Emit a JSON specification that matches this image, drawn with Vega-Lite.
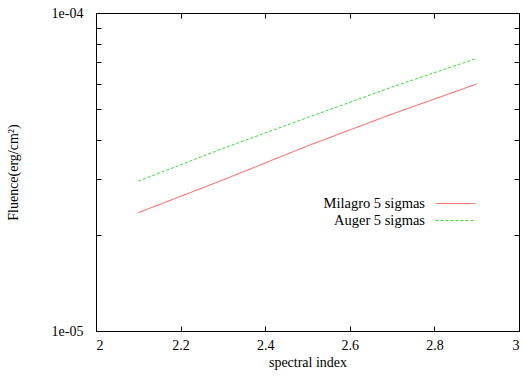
{
  "$schema": "https://vega.github.io/schema/vega-lite/v6.json",
  "width": 423,
  "height": 318,
  "autosize": {"type": "none"},
  "padding": {"left": 96, "top": 13, "right": 3, "bottom": 46},
  "background": "white",
  "config": {
    "font": "Liberation Serif",
    "view": {"stroke": "black", "strokeWidth": 1},
    "axis": {
      "grid": false,
      "domainColor": "black",
      "tickColor": "black",
      "labelColor": "black",
      "titleColor": "black",
      "labelFont": "Liberation Serif",
      "titleFont": "Liberation Serif",
      "labelFontSize": 14,
      "titleFontSize": 14,
      "titleFontWeight": "normal",
      "tickSize": -5
    }
  },
  "data": {
    "values": [
      {"x": 2.1, "fluence": 2.355e-5, "series": "Milagro 5 sigmas"},
      {"x": 2.3, "fluence": 2.985e-5, "series": "Milagro 5 sigmas"},
      {"x": 2.5, "fluence": 3.82e-5, "series": "Milagro 5 sigmas"},
      {"x": 2.7, "fluence": 4.81e-5, "series": "Milagro 5 sigmas"},
      {"x": 2.9, "fluence": 5.98e-5, "series": "Milagro 5 sigmas"},
      {"x": 2.1, "fluence": 2.96e-5, "series": "Auger 5 sigmas"},
      {"x": 2.3, "fluence": 3.75e-5, "series": "Auger 5 sigmas"},
      {"x": 2.5, "fluence": 4.69e-5, "series": "Auger 5 sigmas"},
      {"x": 2.7, "fluence": 5.85e-5, "series": "Auger 5 sigmas"},
      {"x": 2.9, "fluence": 7.2e-5, "series": "Auger 5 sigmas"}
    ]
  },
  "resolve": {"axis": {"x": "independent", "y": "independent"}},
  "layer": [
    {
      "mark": {"type": "line", "strokeWidth": 1},
      "encoding": {
        "x": {
          "field": "x", "type": "quantitative",
          "scale": {"domain": [2, 3], "nice": false, "zero": false},
          "axis": {"title": "spectral index", "values": [2, 2.2, 2.4, 2.6, 2.8, 3], "format": "~g", "labelPadding": 12, "titlePadding": 3, "domain": false}
        },
        "y": {
          "field": "fluence", "type": "quantitative",
          "scale": {"type": "log", "domain": [1e-5, 1e-4], "nice": false},
          "axis": {
            "title": "Fluence(erg/cm²)",
            "values": [1e-5, 2e-5, 3e-5, 4e-5, 5e-5, 6e-5, 7e-5, 8e-5, 9e-5, 1e-4],
            "labelExpr": "datum.value == 0.00001 ? '1e-05' : (datum.value == 0.0001 ? '1e-04' : '')",
            "labelPadding": 18,
            "titleX": -76,
            "domain": false
          }
        },
        "color": {
          "field": "series", "type": "nominal",
          "scale": {"domain": ["Milagro 5 sigmas", "Auger 5 sigmas"], "range": ["#ff5050", "#33dd33"]},
          "legend": {
            "title": null,
            "orient": "none",
            "legendX": 352,
            "legendY": 183,
            "symbolType": "M-3,0H3",
            "symbolSize": 178,
            "symbolStrokeWidth": 1,
            "labelAlign": "right",
            "labelOffset": -38,
            "labelFontSize": 14.5,
            "labelFont": "Liberation Serif",
            "labelColor": "black",
            "rowPadding": 2
          }
        },
        "strokeDash": {
          "field": "series", "type": "nominal",
          "scale": {"domain": ["Milagro 5 sigmas", "Auger 5 sigmas"], "range": [[1, 0], [3, 2]]},
          "legend": null
        }
      }
    },
    {
      "mark": {"type": "line", "opacity": 0},
      "encoding": {
        "x": {
          "field": "x", "type": "quantitative",
          "axis": {"orient": "top", "title": null, "labels": false, "values": [2, 2.2, 2.4, 2.6, 2.8, 3], "domain": false}
        },
        "y": {
          "field": "fluence", "type": "quantitative",
          "axis": {"orient": "right", "title": null, "labels": false, "values": [1e-5, 2e-5, 3e-5, 4e-5, 5e-5, 6e-5, 7e-5, 8e-5, 9e-5, 1e-4], "domain": false}
        }
      }
    }
  ]
}
